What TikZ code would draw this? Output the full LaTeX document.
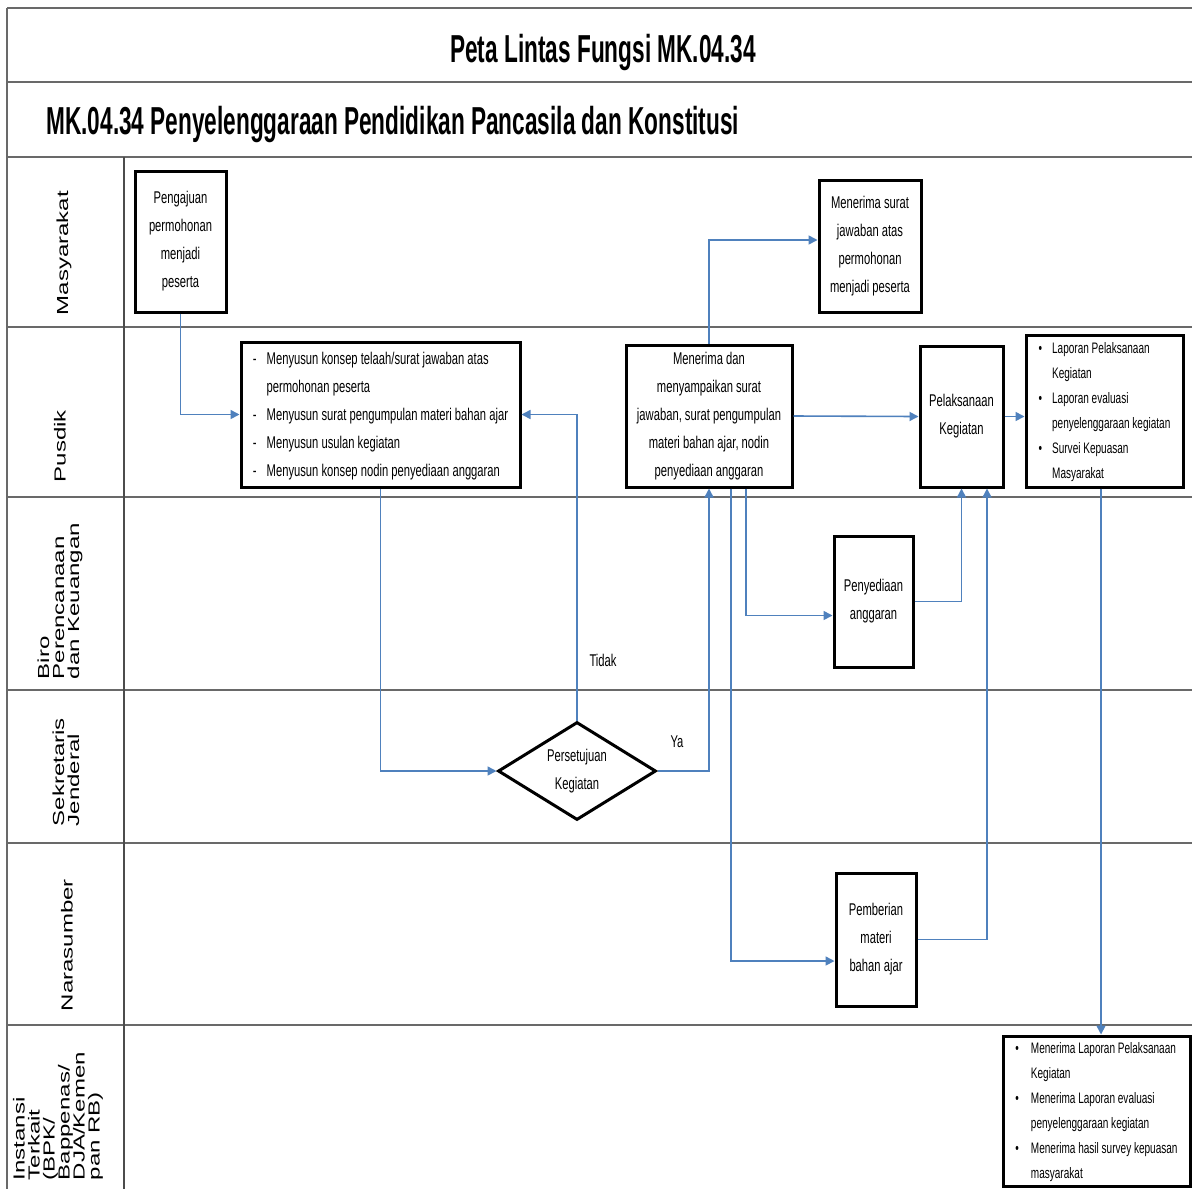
\documentclass[tikz,border=0pt]{standalone}
\usepackage{fontspec}
\setmainfont{Liberation Sans}
\newfontfamily\titlefont[FakeStretch=0.58]{Liberation Sans}
\newfontfamily\bodyfont[FakeStretch=0.66]{Liberation Sans}
\newfontfamily\lanefont[FakeStretch=1.5]{Liberation Sans}
\usetikzlibrary{arrows.meta,shapes.geometric}
\definecolor{flowblue}{RGB}{79,129,189}
\definecolor{laneline}{RGB}{105,105,105}

\begin{document}
\begin{tikzpicture}[x=0.5pt,y=-0.5pt,
  lane/.style={draw=laneline,line width=1.3pt},
  lanelbl/.style={rotate=90,align=left,inner sep=0pt,font=\lanefont\fontsize{8}{7.5}\selectfont},
  actbox/.style={draw,line width=1.5pt,inner sep=0pt,align=center,font=\bodyfont\fontsize{8.5}{14}\selectfont},
  smalltext/.style={font=\bodyfont\fontsize{7.6}{12.5}\selectfont},
  lbl/.style={inner sep=0pt,font=\bodyfont\fontsize{8.5}{14}\selectfont},
  flow/.style={draw=flowblue,line width=0.8pt,-{Triangle[length=4.5pt,width=4.5pt]}}]
\useasboundingbox (0,0) rectangle (1192,1189);
\fill[white] (0,0) rectangle (1192,1189);

\draw[lane] (7,8) -- (1192,8);
\draw[lane] (7,82) -- (1192,82);
\draw[lane] (7,157) -- (1192,157);
\foreach \y in {327,497,690,843,1025}
  \draw[lane] (7,\y) -- (1192,\y);
\draw[draw=laneline,line width=1pt] (7,8) -- (7,1189);
\draw[draw=black!70,line width=0.6pt] (124,157) -- (124,1189);

\node[anchor=base,inner sep=0pt,font=\titlefont\bfseries\fontsize{19.5}{20}\selectfont] (title) at (603,62) {Peta Lintas Fungsi MK.04.34};
\node[anchor=base west,inner sep=0pt,font=\titlefont\bfseries\fontsize{19.5}{20}\selectfont] (subtitle) at (46,134) {MK.04.34 Penyelenggaraan Pendidikan Pancasila dan Konstitusi};

\node[lanelbl] (lmasyarakat) at (64,253) {Masyarakat};
\node[lanelbl] (lpusdik) at (60,446) {Pusdik};
\node[lanelbl] (lbiro) at (60,601) {Biro\\Perencanaan\\dan Keuangan};
\node[lanelbl] (lsekjen) at (66,772) {Sekretaris\\Jenderal};
\node[lanelbl] (lnarasumber) at (67,945) {Narasumber};
\node[lanelbl] (linstansi) at (58,1116) {Instansi\\Terkait\\(BPK/\\Bappenas/\\DJA/Kemen\\pan RB)};

\node[actbox,minimum width=45.5pt,minimum height=70.5pt] (pengajuan) at (180.5,241.5) {Pengajuan\\permohonan\\menjadi\\peserta};
\node[actbox,minimum width=51pt,minimum height=66pt] (terima) at (870,246) {Menerima surat\\jawaban atas\\permohonan\\menjadi peserta};
\node[actbox,minimum width=139.5pt,minimum height=72.5pt] (menyusun) at (380.5,414.5) {\begin{tabular}{@{}l@{\hspace{5pt}}l@{}}
- & Menyusun konsep telaah/surat jawaban atas\\
  & permohonan peserta\\
- & Menyusun surat pengumpulan materi bahan ajar\\
- & Menyusun usulan kegiatan\\
- & Menyusun konsep nodin penyediaan anggaran
\end{tabular}};
\node[actbox,minimum width=83pt,minimum height=71pt] (sampaikan) at (709,416) {Menerima dan\\menyampaikan surat\\jawaban, surat pengumpulan\\materi bahan ajar, nodin\\penyediaan anggaran};
\node[actbox,minimum width=41.5pt,minimum height=70.5pt] (pelaksanaan) at (961.5,416.5) {Pelaksanaan\\Kegiatan};
\node[actbox,smalltext,minimum width=78.5pt,minimum height=76pt] (laporan) at (1104.5,411) {\begin{tabular}{@{}l@{\hspace{5pt}}l@{}}
\textbullet & Laporan Pelaksanaan\\
  & Kegiatan\\
\textbullet & Laporan evaluasi\\
  & penyelenggaraan kegiatan\\
\textbullet & Survei Kepuasan\\
  & Masyarakat
\end{tabular}};
\node[actbox,minimum width=39.5pt,minimum height=65.5pt] (penyediaan) at (873.5,601.5) {Penyediaan\\anggaran};
\node[actbox,diamond,aspect=1.6,minimum width=79pt,minimum height=49pt] (setuju) at (577,771) {Persetujuan\\Kegiatan};
\node[actbox,minimum width=40pt,minimum height=66.5pt] (pemberian) at (876,939.5) {Pemberian\\materi\\bahan ajar};
\node[actbox,smalltext,minimum width=93.5pt,minimum height=74pt] (terimalap) at (1096.5,1111) {\begin{tabular}{@{}l@{\hspace{6pt}}l@{}}
\textbullet & Menerima Laporan Pelaksanaan\\
  & Kegiatan\\
\textbullet & Menerima Laporan evaluasi\\
  & penyelenggaraan kegiatan\\
\textbullet & Menerima hasil survey kepuasan\\
  & masyarakat
\end{tabular}};

\node[lbl] (tidak) at (603,660) {Tidak};
\node[lbl] (ya) at (677,742) {Ya};

\draw[flow] (pengajuan.south) |- (menyusun.west);
\draw[flow] (menyusun.south) |- (setuju.west);
\draw[flow] (setuju.north) |- (menyusun.east);
\draw[flow] (setuju.east) -| (sampaikan.south);
\draw[flow] (sampaikan.north) |- ([yshift=3pt]terima.west);
\draw[flow] (sampaikan.east) -- (pelaksanaan.west);
\draw[flow] (pelaksanaan.east) -- (pelaksanaan.east -| laporan.west);
\draw[flow] ([xshift=18.5pt]sampaikan.south) |- ([yshift=-7pt]penyediaan.west);
\draw[flow] ([xshift=11pt]sampaikan.south) |- ([yshift=-10.75pt]pemberian.west);
\draw[flow] (penyediaan.east) -| (pelaksanaan.south);
\draw[flow] (pemberian.east) -| ([xshift=12.75pt]pelaksanaan.south);
\draw[flow] ([xshift=-1.75pt]laporan.south) -- ([xshift=2.25pt]terimalap.north);
\end{tikzpicture}
\end{document}
